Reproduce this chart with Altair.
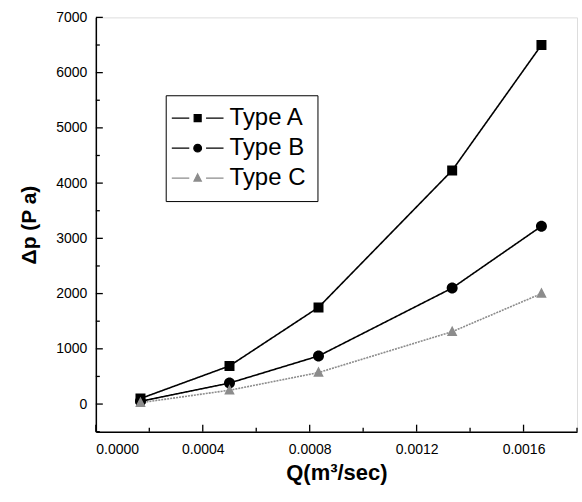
import altair as alt
import pandas as pd

series = ["Type A", "Type B", "Type C"]
q_values = [0.000167, 0.0005, 0.000833, 0.001333, 0.001667]
type_a = [100, 690, 1750, 4230, 6500]
type_b = [50, 380, 870, 2100, 3220]
type_c = [25, 250, 570, 1310, 2000]

y_major = [0, 1000, 2000, 3000, 4000, 5000, 6000, 7000]
y_minor = [-500, 500, 1500, 2500, 3500, 4500, 5500, 6500]
x_major = [0.0, 0.0004, 0.0008, 0.0012, 0.0016]
x_minor = [0.0002, 0.0006, 0.0010, 0.0014, 0.0018]

rows = []
for name, vals in zip(series, [type_a, type_b, type_c]):
    for q, v in zip(q_values, vals):
        rows.append({"series": name, "line": name, "Q": q, "dp": v})
df = pd.DataFrame(rows)

W, H = 482, 415
FONT = "Liberation Sans"
COLORS = ["black", "black", "#8c8c8c"]
X0, X1 = 0.0, 0.0018
Y0, Y1 = -500, 7000

xscale = alt.Scale(domain=[X0, X1], nice=False, zero=False)
yscale = alt.Scale(domain=[Y0, Y1], nice=False, zero=False)

XT_MAJ = (X1 - X0) * 7 / W
XT_MIN = (X1 - X0) * 4 / W
YT_MAJ = (Y1 - Y0) * 7 / H
YT_MIN = (Y1 - Y0) * 4 / H

shapes = [
    "M-7.4,0H-2.4M2.4,0H7.4M-1,-1H1V1H-1Z",
    "M-7.4,0H-2.4M2.4,0H7.4M1.1,0A1.1,1.1 0 1,1 -1.1,0A1.1,1.1 0 1,1 1.1,0Z",
    "M-7.4,0H-2.4M2.4,0H7.4M0,-1.2L1.05,0.85H-1.05Z",
]

xaxis = alt.Axis(values=x_major, format=".4f", title="Q(m³/sec)",
                 ticks=False, grid=False, domainColor="black", domainWidth=1.5,
                 labelFont=FONT, labelFontSize=14, labelColor="black", labelPadding=11,
                 titleFont=FONT, titleFontSize=22, titleFontWeight="bold",
                 titleColor="black", titlePadding=6)
yaxis = alt.Axis(values=y_major, format="d", title="Δp (P a)", ticks=False, grid=False,
                 domainColor="black", domainWidth=1.5,
                 labelFont=FONT, labelFontSize=14, labelColor="black", labelPadding=9,
                 titleFont=FONT, titleFontSize=21, titleFontWeight="bold",
                 titleColor="black", titlePadding=16)

lines = alt.Chart(df).mark_line().encode(
    x=alt.X("Q:Q", scale=xscale, axis=xaxis),
    y=alt.Y("dp:Q", scale=yscale, axis=yaxis),
    color=alt.Color("line:N", scale=alt.Scale(range=COLORS), legend=None),
    strokeWidth=alt.StrokeWidth("line:N", scale=alt.Scale(range=[1.6, 1.6, 1.1]), legend=None),
    strokeDash=alt.StrokeDash("line:N", scale=alt.Scale(range=[[1, 0], [1, 0], [2, 1]]), legend=None),
)

legend = alt.Legend(title=None, orient="none", legendX=70, legendY=78,
                    strokeColor="black", fillColor="white", padding=11,
                    labelFont=FONT, labelFontSize=24, labelColor="black",
                    symbolSize=49, symbolStrokeWidth=1.2, symbolOffset=9,
                    labelOffset=20, rowPadding=6)

points = alt.Chart(df).mark_point(filled=True, size=100, strokeWidth=0, opacity=1).encode(
    x=alt.X("Q:Q", scale=xscale, axis=xaxis),
    y=alt.Y("dp:Q", scale=yscale, axis=yaxis),
    shape=alt.Shape("series:N", scale=alt.Scale(domain=series, range=shapes), legend=legend),
    fill=alt.Fill("series:N", scale=alt.Scale(domain=series, range=COLORS), legend=legend),
    stroke=alt.Stroke("series:N", scale=alt.Scale(domain=series, range=COLORS), legend=legend),
)

ymaj = alt.Chart(pd.DataFrame({"v": y_major})).mark_rule(color="black", strokeWidth=1.3).encode(
    y=alt.Y("v:Q", scale=yscale, axis=yaxis),
    x=alt.X(datum=X0, scale=xscale, axis=xaxis), x2=alt.X2(datum=X0 + XT_MAJ))
ymin = alt.Chart(pd.DataFrame({"v": y_minor})).mark_rule(color="black", strokeWidth=1.3).encode(
    y=alt.Y("v:Q", scale=yscale, axis=yaxis),
    x=alt.X(datum=X0, scale=xscale, axis=xaxis), x2=alt.X2(datum=X0 + XT_MIN))
xmaj = alt.Chart(pd.DataFrame({"v": x_major})).mark_rule(color="black", strokeWidth=1.3).encode(
    x=alt.X("v:Q", scale=xscale, axis=xaxis),
    y=alt.Y(datum=Y0, scale=yscale, axis=yaxis), y2=alt.Y2(datum=Y0 + YT_MAJ))
xmin = alt.Chart(pd.DataFrame({"v": x_minor})).mark_rule(color="black", strokeWidth=1.3).encode(
    x=alt.X("v:Q", scale=xscale, axis=xaxis),
    y=alt.Y(datum=Y0, scale=yscale, axis=yaxis), y2=alt.Y2(datum=Y0 + YT_MIN))

chart = alt.layer(lines, ymaj, ymin, xmaj, xmin, points).properties(
    width=W, height=H,
    padding={"left": 18, "top": 10, "right": 3, "bottom": 5},
).configure_view(stroke=None).configure(background="white")

chart.save("out.html", embed_options={"renderer": "svg", "actions": False})
